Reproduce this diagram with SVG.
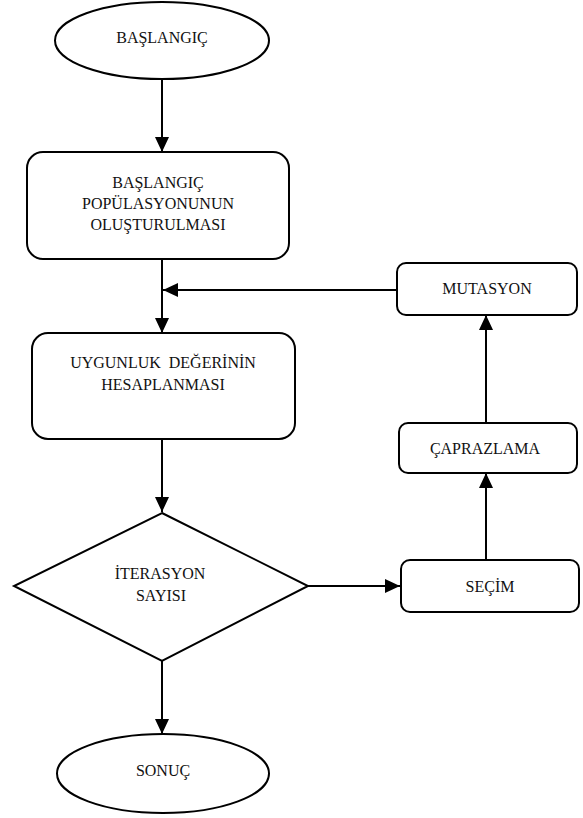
<svg xmlns="http://www.w3.org/2000/svg" width="583" height="818" viewBox="0 0 583 818">
<style>
.s{fill:#fff;stroke:#000;stroke-width:2}
.t{font-family:'Liberation Serif','Times New Roman',serif;font-size:16px;fill:#111;text-anchor:middle}
.c{fill:none;stroke:#000;stroke-width:2}
</style>
<defs>
<marker id="ah" markerUnits="userSpaceOnUse" markerWidth="15" markerHeight="14" refX="15" refY="7" orient="auto">
<path d="M0,0 L15,7 L0,14 z" fill="#000"/>
</marker>
</defs>
<rect width="583" height="818" fill="#fff"/>
<g id="connectors">
<path class="c" d="M162,79 V152" marker-end="url(#ah)"/>
<path class="c" d="M162,259 V333" marker-end="url(#ah)"/>
<path class="c" d="M397,290 H163" marker-end="url(#ah)"/>
<path class="c" d="M162,439 V512" marker-end="url(#ah)"/>
<path class="c" d="M308,586 H400" marker-end="url(#ah)"/>
<path class="c" d="M162,661 V734" marker-end="url(#ah)"/>
<path class="c" d="M486,560 V473" marker-end="url(#ah)"/>
<path class="c" d="M486,423 V315" marker-end="url(#ah)"/>
</g>
<g id="baslangic">
<ellipse class="s" cx="162" cy="40.5" rx="107" ry="38.5"/>
<text class="t" x="162" y="43">BAŞLANGIÇ</text>
</g>
<g id="populasyon">
<rect class="s" x="27" y="152" width="262" height="107" rx="16"/>
<text class="t" x="158" y="188">BAŞLANGIÇ</text>
<text class="t" x="158" y="209">POPÜLASYONUNUN</text>
<text class="t" x="158" y="230">OLUŞTURULMASI</text>
</g>
<g id="uygunluk">
<rect class="s" x="32" y="333" width="263" height="106" rx="16"/>
<text class="t" x="163" y="368" xml:space="preserve" style="white-space:pre">UYGUNLUK  DEĞERİNİN</text>
<text class="t" x="163" y="390">HESAPLANMASI</text>
</g>
<g id="iterasyon">
<path class="s" d="M162,513 L308,586 L162,661 L14,586 z"/>
<text class="t" x="160" y="579">İTERASYON</text>
<text class="t" x="161" y="601">SAYISI</text>
</g>
<g id="sonuc">
<ellipse class="s" cx="163" cy="773.5" rx="106" ry="39.5"/>
<text class="t" x="163" y="776">SONUÇ</text>
</g>
<g id="secim">
<rect class="s" x="401" y="560" width="178" height="52" rx="9"/>
<text class="t" x="490" y="592">SEÇİM</text>
</g>
<g id="caprazlama">
<rect class="s" x="399" y="423" width="178" height="50" rx="9"/>
<text class="t" x="485" y="454">ÇAPRAZLAMA</text>
</g>
<g id="mutasyon">
<rect class="s" x="397" y="263" width="180" height="52" rx="9"/>
<text class="t" x="487" y="294">MUTASYON</text>
</g>
</svg>
